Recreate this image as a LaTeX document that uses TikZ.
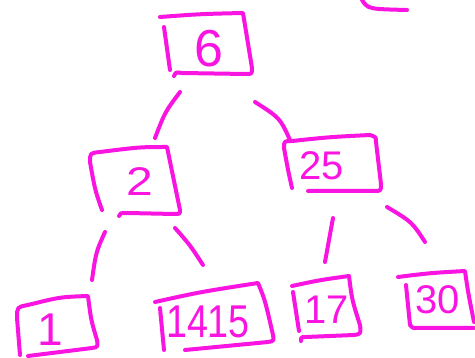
\documentclass[tikz,border=0pt]{standalone}
\usepackage{fontspec}
\setmainfont{Liberation Sans}
\definecolor{pen}{RGB}{250,20,225}
\begin{document}
\begin{tikzpicture}[x=1pt,y=-1pt,
  ink/.style={draw=pen,line width=4pt,line cap=round,line join=round},
  lbl/.style={text=pen,inner sep=0pt,font=\fontsize{#1}{#1}\selectfont},
  lbl/.default=40]
\useasboundingbox (0,0) rectangle (475,358);
% root 6
\draw[ink] (160,17) .. controls (200,14) .. (243,13) -- (252,68) .. controls (252,74) .. (246,74) -- (182,73) .. controls (176,72) .. (174,76);
\draw[ink] (164,27) -- (170,70);
\node[lbl=52] (n6) at (209,49) {6};
% node 2
\draw[ink] (102,210) .. controls (95,190) .. (90,162) .. controls (90,153) .. (100,152) .. controls (140,147) .. (167,147) -- (180,210) .. controls (180,214) .. (174,214) -- (128,213) .. controls (120,213) .. (119,216);
\node[lbl=40,xscale=1.2] (n2) at (140,182) {2};
% node 25
\draw[ink] (292,188) .. controls (288,170) .. (284,148) .. controls (284,141) .. (292,141) .. controls (330,137) .. (370,135) .. controls (376,137) .. (376,142) -- (381,184) .. controls (381,191) .. (374,191) -- (308,191);
\node[lbl=40] (n25) at (322,166) {25};
% node 1
\draw[ink] (20,355) -- (17,318) .. controls (17,307) .. (28,305) .. controls (60,297) .. (88,296) .. controls (91,320) .. (97,340) .. controls (98,347) .. (92,348) -- (28,356);
\node[lbl=46] (n1) at (50,330) {1};
% node 1415
\draw[ink] (155,302) .. controls (200,292) .. (258,283) .. controls (265,300) .. (273,335) .. controls (274,341) .. (268,342) -- (185,350);
\draw[ink] (160,308) -- (164,350);
\node[lbl=46,xscale=0.82] (n1415) at (208,322) {1415};
% node 17
\draw[ink] (292,286) .. controls (320,280) .. (349,276) .. controls (352,300) .. (360,325) .. controls (361,334) .. (354,335) -- (306,337) .. controls (301,337) .. (301,341);
\draw[ink] (293,292) -- (299,331);
\node[lbl=40] (n17) at (327,310) {17};
% node 30
\draw[ink] (398,277) .. controls (430,273) .. (465,271) .. controls (468,292) .. (474,322);
\draw[ink] (406,285) -- (410,325) .. controls (412,328) .. (418,328) -- (474,328);
\node[lbl=40] (n30) at (438,300) {30};
% connectors
\coordinate (a1) at (180,92); \coordinate (b1) at (155,138);
\coordinate (a2) at (255,102); \coordinate (b2) at (290,140);
\coordinate (a3) at (105,232); \coordinate (b3) at (92,280);
\coordinate (a4) at (175,228); \coordinate (b4) at (203,265);
\coordinate (a5) at (333,218); \coordinate (b5) at (325,262);
\coordinate (a6) at (387,207); \coordinate (b6) at (425,242);
\draw[ink] (a1) .. controls (165,112) .. (b1);
\draw[ink] (a2) .. controls (280,118) .. (b2);
\draw[ink] (a3) .. controls (96,252) .. (b3);
\draw[ink] (a4) .. controls (190,245) .. (b4);
\draw[ink] (a5) -- (b5);
\draw[ink] (a6) .. controls (412,222) .. (b6);
% top-right arc
\coordinate (c1) at (362,0); \coordinate (c2) at (407,10);
\draw[ink] (c1) .. controls (368,9) .. (c2);
\end{tikzpicture}
\end{document}
